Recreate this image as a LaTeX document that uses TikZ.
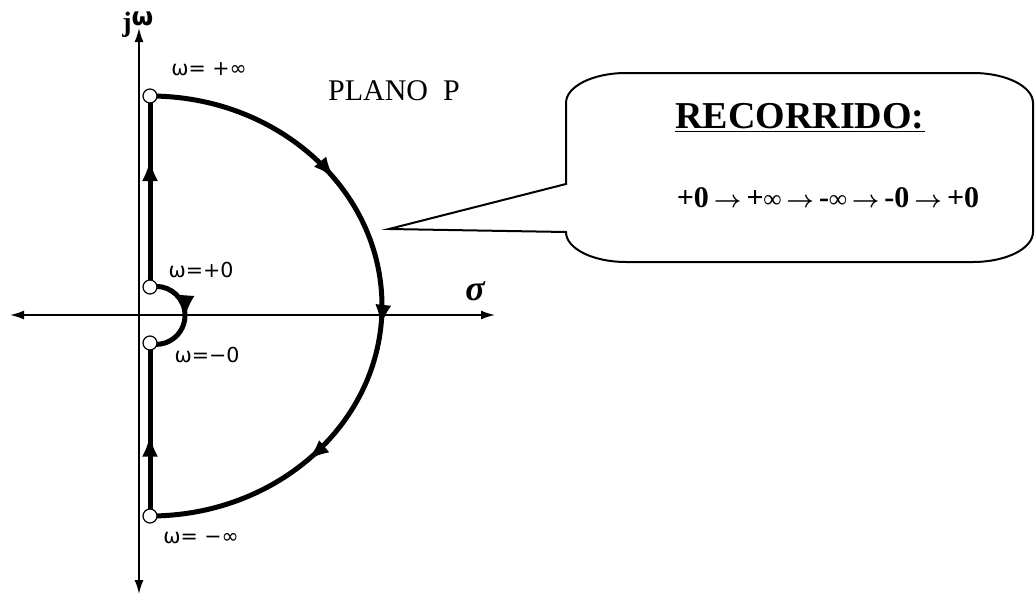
\documentclass[tikz,border=0pt]{standalone}
\usepackage{fontspec}
\setmainfont{Liberation Serif}
\newfontfamily\dejavu{DejaVu Sans}
\usetikzlibrary{arrows.meta,decorations.markings}

\newcommand{\seqarrow}{\hspace{2.5pt}{\fontsize{13}{14}\selectfont\boldmath$\rightarrow$}\hspace{2.5pt}}
\newcommand{\seqinf}{{\fontsize{12.5}{13}\selectfont ∞}}

\tikzset{
	flowtip/.tip={Latex[length=11pt,width=8pt]},
	axistip/.tip={Latex[length=7pt,width=4.5pt]},
	contour/.style={line width=2.5pt},
	axisline/.style={line width=0.8pt, {axistip}-{axistip}},
	flowarrow/.style={postaction={decorate}, decoration={markings, mark=at position #1 with {\arrow{flowtip}}}},
	hole/.style={draw, circle, fill=white, line width=0.6pt, minimum size=7pt, inner sep=0pt},
	wlabel/.style={font=\dejavu\fontsize{10.3}{12}\selectfont, inner sep=0pt}
}

\begin{document}
\begin{tikzpicture}[x=0.5pt, y=-0.5pt]
	\useasboundingbox (0,0) rectangle (1035,594);

	% ejes
	\coordinate (xl) at (10,315);
	\coordinate (xr) at (495,315);
	\coordinate (yb) at (139,594);
	\coordinate (yt) at (139,28);
	\draw[axisline] (xl) -- (xr);
	\draw[axisline] (yb) -- (yt);
	\node[anchor=base west, inner sep=0pt] (jw) at (122,32) {\fontsize{14}{16}\selectfont\bfseries j\raisebox{3pt}{\dejavu\fontsize{12.5}{14}\selectfont ω}};
	\node[font=\bfseries\itshape\fontsize{18}{20}\selectfont, anchor=base, inner sep=0pt] (sigma) at (475,300) {σ};

	% contorno
	\coordinate (pinf) at (150,96);
	\coordinate (pz) at (150,287);
	\coordinate (mz) at (150,343);
	\coordinate (minf) at (150,516);
	\draw[contour, flowarrow=0.67] (pz) -- (pinf);
	\draw[contour, postaction={decorate}, decoration={markings,
		mark=at position 0.3 with {\arrow{flowtip}},
		mark=at position 0.53 with {\arrow{flowtip}},
		mark=at position 0.755 with {\arrow{flowtip}}}]
		(pinf) arc[start angle=-90, end angle=90, x radius=232, y radius=210];
	\draw[contour, flowarrow=0.47] (minf) -- (mz);
	\draw[contour, flowarrow=0.52] (pz) arc[start angle=-102, end angle=102, radius=29];

	\node[hole] (pinfc) at (pinf) {};
	\node[hole] (pzc) at (pz) {};
	\node[hole] (mzc) at (mz) {};
	\node[hole] (minfc) at (minf) {};

	\node[wlabel] (lpinf) at (209,69) {ω= +∞};
	\node[wlabel] (lpz) at (201,270) {ω=+0};
	\node[wlabel] (lmz) at (207,355) {ω=−0};
	\node[wlabel] (lminf) at (201,538) {ω= −∞};

	\node[font=\fontsize{15}{17}\selectfont, inner sep=0pt] (plano) at (394,91) {PLANO\hspace{0.5em}P};

	% globo
	\coordinate (tip) at (389,229);
	\draw[line width=1pt] (566,184) -- (tip) -- (566,232)
		.. controls (566,248.6) and (592.9,262) .. (626,262) -- (973,262)
		.. controls (1006.1,262) and (1033,248.6) .. (1033,232) -- (1033,103)
		.. controls (1033,86.4) and (1006.1,73) .. (973,73) -- (626,73)
		.. controls (592.9,73) and (566,86.4) .. (566,103) -- cycle;
	\node[font=\bfseries\fontsize{19}{22}\selectfont, anchor=base, inner sep=0pt] (titulo) at (800,128) {\underline{RECORRIDO:}};
	\node[font=\bfseries\fontsize{15}{20}\selectfont, anchor=base, inner sep=0pt] (recorrido) at (828,207) {+0\seqarrow+\seqinf\seqarrow-\seqinf\seqarrow-0\seqarrow+0};

\end{tikzpicture}
\end{document}
